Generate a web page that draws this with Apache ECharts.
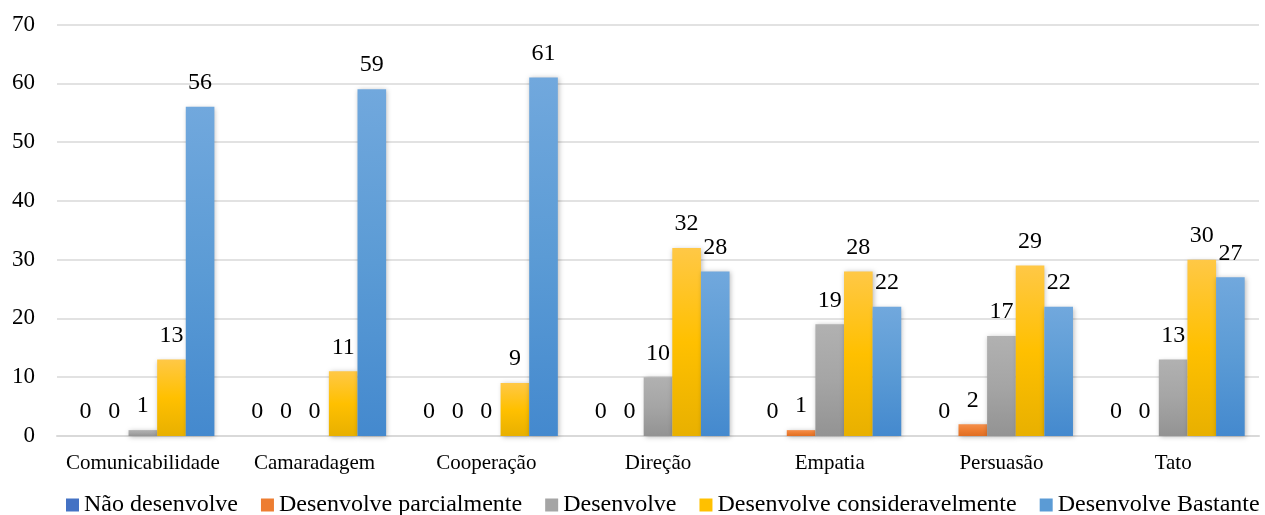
<!DOCTYPE html>
<html>
<head>
<meta charset="utf-8">
<title>Competências</title>
<script src="https://cdn.jsdelivr.net/npm/echarts@6/dist/echarts.min.js"></script>
<style>
  html, body { margin: 0; padding: 0; background: #ffffff; }
  #chart { width: 1265px; height: 515px; }
</style>
</head>
<body>
<div id="chart"></div>
<script>
// Categories and the five response levels
const categories = ['Comunicabilidade', 'Camaradagem', 'Cooperação', 'Direção', 'Empatia', 'Persuasão', 'Tato'];
const naoDesenvolve = [0, 0, 0, 0, 0, 0, 0];
const desenvolveParcialmente = [0, 0, 0, 0, 1, 2, 0];
const desenvolve = [1, 0, 0, 10, 19, 17, 13];
const desenvolveConsideravelmente = [13, 11, 9, 32, 28, 29, 30];
const desenvolveBastante = [56, 59, 61, 28, 22, 22, 27];
const yTicks = [0, 10, 20, 30, 40, 50, 60, 70];

const FONT = '"Liberation Serif", "Times New Roman", serif';

// Vertical gradient fill: lighter at the top, deeper at the bottom
function grad(top, mid, bottom) {
  return new echarts.graphic.LinearGradient(0, 0, 0, 1, [
    { offset: 0, color: top },
    { offset: 0.5, color: mid },
    { offset: 1, color: bottom }
  ]);
}

const palette = [
  { name: 'Não desenvolve', data: naoDesenvolve, solid: '#4472C4', fill: grad('#5B87D1', '#4472C4', '#3563B5') },
  { name: 'Desenvolve parcialmente', data: desenvolveParcialmente, solid: '#ED7D31', fill: grad('#F58F4B', '#ED7D31', '#E06E22') },
  { name: 'Desenvolve', data: desenvolve, solid: '#A5A5A5', fill: grad('#B1B1B1', '#A5A5A5', '#939393') },
  { name: 'Desenvolve consideravelmente', data: desenvolveConsideravelmente, solid: '#FFC000', fill: grad('#FFC846', '#FFC000', '#E8B000') },
  { name: 'Desenvolve Bastante', data: desenvolveBastante, solid: '#5B9BD5', fill: grad('#71A8DD', '#5B9BD5', '#4489CE') }
];

const series = palette.map(p => ({
  name: p.name,
  type: 'bar',
  data: p.data,
  barGap: '0%',
  barCategoryGap: '16.67%',
  itemStyle: {
    color: p.fill,
    shadowColor: 'rgba(0,0,0,0.28)',
    shadowBlur: 5,
    shadowOffsetX: 1,
    shadowOffsetY: 1
  },
  label: {
    show: true,
    position: 'top',
    distance: 12,
    color: '#000',
    fontFamily: FONT,
    fontSize: 24
  },
  emphasis: { disabled: true }
}));

const chart = echarts.init(document.getElementById('chart'), null, { renderer: 'canvas' });
chart.setOption({
  animation: false,
  backgroundColor: '#ffffff',
  color: palette.map(p => p.solid),
  grid: { left: 57, right: 6, top: 24.5, bottom: 79, containLabel: false },
  legend: {
    left: 66,
    top: 493,
    width: 1199,
    padding: 0,
    icon: 'rect',
    itemWidth: 13,
    itemHeight: 13,
    itemGap: 23,
    textStyle: { fontFamily: FONT, fontSize: 24, color: '#000' },
    data: palette.map(p => ({ name: p.name, itemStyle: { color: p.solid } }))
  },
  xAxis: {
    type: 'category',
    data: categories,
    axisLine: { show: true, lineStyle: { color: '#d9d9d9', width: 2 } },
    axisTick: { show: false },
    axisLabel: { color: '#000', fontFamily: FONT, fontSize: 21, margin: 17, interval: 0 }
  },
  yAxis: {
    type: 'value',
    min: yTicks[0],
    max: yTicks[yTicks.length - 1],
    interval: 10,
    axisLine: { show: false },
    axisTick: { show: false },
    splitLine: { lineStyle: { color: '#d9d9d9', width: 1.5 } },
    axisLabel: { color: '#000', fontFamily: FONT, fontSize: 23, margin: 22 }
  },
  series: series
});
</script>
</body>
</html>
